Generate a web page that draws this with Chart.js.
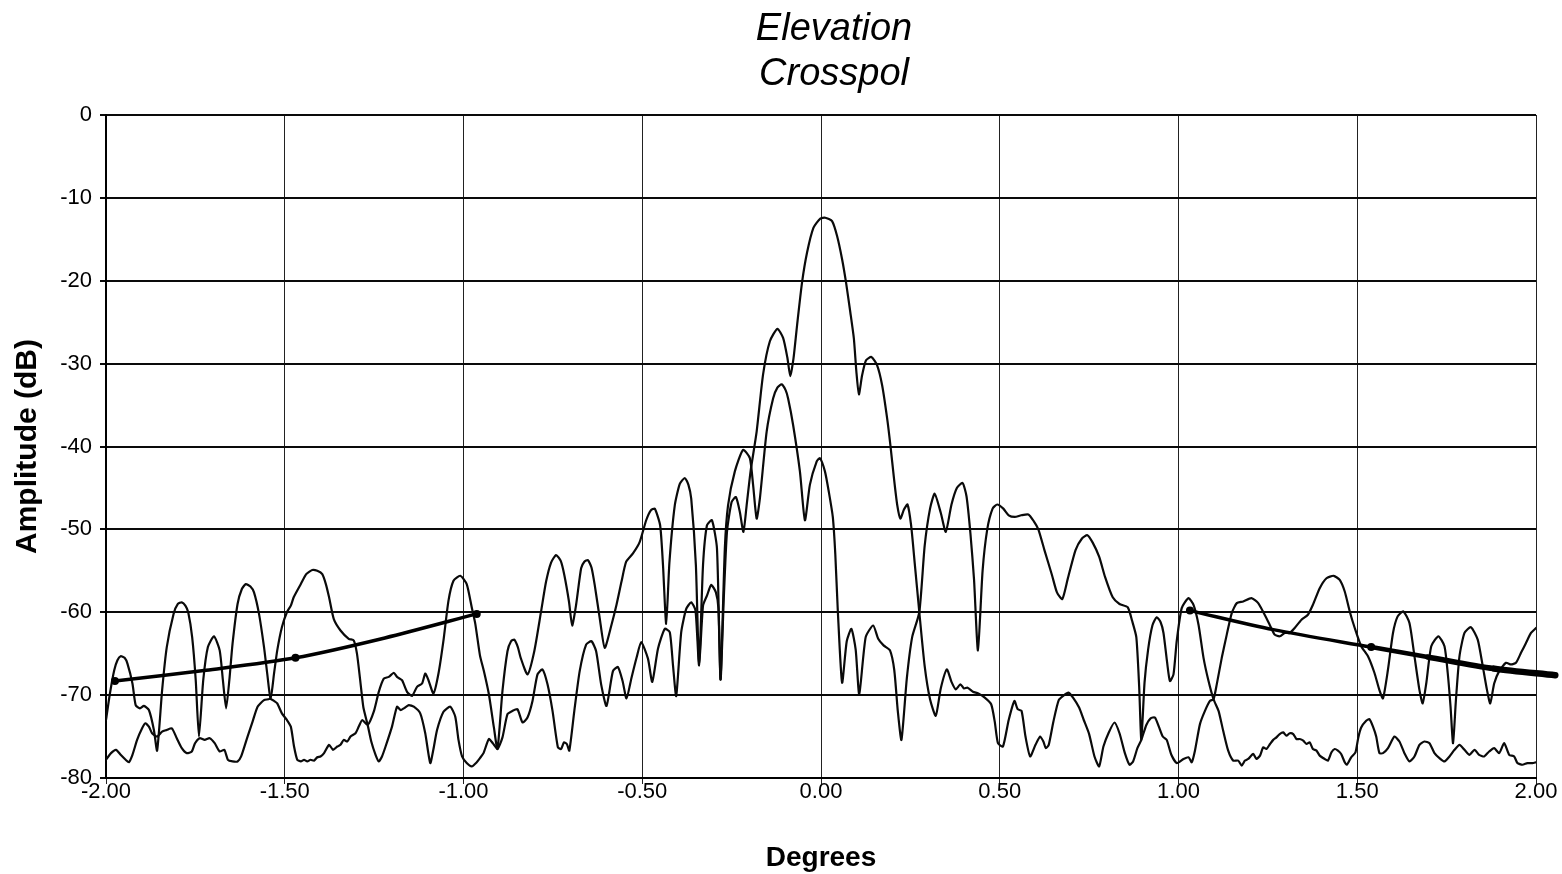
<!DOCTYPE html>
<html>
<head>
<meta charset="utf-8">
<title>Elevation Crosspol</title>
<script src="https://cdn.jsdelivr.net/npm/chart.js@4/dist/chart.umd.min.js"></script>
<style>
  html, body { margin: 0; padding: 0; background: #fff; }
  #wrap { width: 1562px; height: 874px; }
</style>
</head>
<body>
<div id="wrap"><canvas id="pattern" width="1562" height="874"></canvas></div>
<script>
// Axis ticks
const degreeTicks = [-2, -1.5, -1, -0.5, 0, 0.5, 1, 1.5, 2];
const degreeLabels = ['-2.00', '-1.50', '-1.00', '-0.50', '0.00', '0.50', '1.00', '1.50', '2.00'];
const amplitudeTicks = [0, -10, -20, -30, -40, -50, -60, -70, -80];

const titleLines = ['Elevation', 'Crosspol'];

// Measured cuts, [degrees, dB]. The two traces cross each other several times.
const traceA = [
  [-2.000,-73.0],[-1.989,-69.8],[-1.977,-67.0],[-1.968,-65.8],[-1.959,-65.3],[-1.948,-65.5],[-1.940,-66.2],
  [-1.926,-68.6],[-1.917,-71.2],[-1.905,-71.6],[-1.894,-71.3],[-1.880,-71.8],[-1.866,-74.2],[-1.857,-76.7],
  [-1.843,-69.4],[-1.830,-64.2],[-1.811,-60.2],[-1.799,-59.0],[-1.788,-58.8],[-1.778,-59.2],[-1.770,-60.0],
  [-1.759,-63.0],[-1.749,-68.2],[-1.740,-75.0],[-1.728,-68.2],[-1.715,-64.2],[-1.698,-62.9],[-1.682,-64.6],
  [-1.673,-68.2],[-1.664,-71.6],[-1.655,-68.2],[-1.646,-63.8],[-1.632,-59.0],[-1.620,-57.2],[-1.609,-56.6],
  [-1.596,-56.9],[-1.586,-57.6],[-1.572,-60.2],[-1.558,-64.2],[-1.549,-67.4],[-1.540,-70.4],
  [-1.530,-70.7],[-1.521,-71.0],[-1.508,-72.2],[-1.494,-73.0],[-1.483,-73.8],[-1.474,-76.2],[-1.465,-77.8],
  [-1.455,-78.0],[-1.446,-77.8],[-1.437,-78.0],[-1.428,-77.8],[-1.418,-77.9],[-1.409,-77.5],[-1.400,-77.4],
  [-1.390,-77.0],[-1.376,-76.0],[-1.365,-76.6],[-1.353,-76.2],[-1.344,-76.0],[-1.335,-75.4],[-1.325,-75.6],
  [-1.316,-75.0],[-1.302,-74.6],[-1.293,-73.8],[-1.283,-73.0],[-1.268,-73.6],
  [-1.251,-72.0],[-1.237,-69.6],[-1.223,-68.0],[-1.209,-67.8],[-1.195,-67.3],[-1.186,-67.8],[-1.172,-68.2],
  [-1.158,-69.6],[-1.144,-70.1],[-1.130,-69.0],[-1.116,-68.6],[-1.107,-67.4],[-1.098,-68.2],[-1.084,-69.8],
  [-1.070,-67.4],[-1.056,-63.4],[-1.042,-58.6],[-1.028,-56.2],[-1.009,-55.6],[-0.991,-56.6],[-0.977,-59.4],
  [-0.967,-61.4],[-0.954,-65.2],[-0.943,-67.1],[-0.929,-69.9],[-0.915,-73.9],[-0.905,-76.5],
  [-0.891,-69.5],[-0.877,-64.7],[-0.867,-63.5],[-0.858,-63.3],[-0.848,-64.2],[-0.840,-65.5],[-0.821,-67.5],
  [-0.802,-64.7],[-0.783,-59.9],[-0.769,-56.3],[-0.755,-54.0],[-0.741,-53.1],[-0.728,-53.8],[-0.718,-55.5],
  [-0.705,-58.7],[-0.696,-61.6],[-0.685,-59.1],[-0.671,-54.7],[-0.662,-53.9],[-0.652,-53.7],[-0.642,-54.6],
  [-0.633,-56.7],[-0.619,-60.7],[-0.605,-64.3],[-0.586,-61.5],[-0.572,-59.1],[-0.558,-56.3],[-0.545,-53.9],
  [-0.526,-52.9],[-0.507,-51.5],[-0.489,-48.9],[-0.476,-47.7],[-0.465,-47.5],[-0.450,-49.5],[-0.442,-54.3],
  [-0.433,-61.4],[-0.424,-54.0],[-0.409,-47.1],[-0.395,-44.5],[-0.381,-43.8],[-0.371,-44.6],[-0.363,-46.3],
  [-0.350,-54.3],[-0.341,-66.4],[-0.330,-54.3],[-0.319,-49.5],[-0.305,-48.9],[-0.291,-52.3],[-0.281,-68.1],
  [-0.272,-58.4],[-0.263,-50.3],[-0.250,-46.7],[-0.238,-46.1],[-0.227,-47.9],[-0.217,-50.3],[-0.208,-47.1],
  [-0.197,-43.0],[-0.180,-38.2],[-0.162,-31.3],[-0.143,-27.3],[-0.122,-25.8],[-0.106,-26.9],[-0.094,-29.3],
  [-0.086,-31.5],[-0.077,-29.4],[-0.067,-25.4],[-0.053,-20.2],[-0.039,-16.6],[-0.021,-13.6],[-0.002,-12.5],
  [0.012,-12.4],[0.031,-12.8],[0.045,-14.6],[0.059,-17.4],[0.070,-20.2],[0.082,-23.8],[0.092,-27.0],
  [0.099,-31.0],[0.106,-33.7],[0.115,-31.4],[0.126,-29.6],[0.141,-29.2],[0.157,-30.2],[0.171,-32.6],
  [0.185,-36.6],[0.194,-39.8],[0.204,-43.8],[0.213,-47.0],[0.222,-48.7],[0.232,-47.6],[0.242,-47.0],
  [0.252,-49.5],[0.262,-54.0],[0.275,-60.0],
  [0.290,-66.5],[0.305,-70.5],[0.321,-72.5],[0.335,-69.2],[0.352,-66.9],[0.365,-68.4],[0.377,-69.3],
  [0.390,-68.7],[0.400,-69.2],[0.410,-69.1],[0.425,-69.6],[0.440,-69.8],[0.458,-70.3],[0.476,-71.1],
  [0.486,-73.2],[0.495,-75.8],[0.509,-76.2],[0.525,-73.0],[0.541,-70.7],[0.550,-71.7],[0.561,-71.9],
  [0.572,-75.0],[0.585,-77.4],[0.600,-76.0],[0.613,-75.0],[0.622,-75.6],[0.629,-76.4],[0.637,-76.0],
  [0.650,-73.2],[0.665,-70.6],[0.680,-70.0],[0.692,-69.7],[0.705,-70.3],[0.722,-71.5],[0.735,-73.0],
  [0.750,-74.7],[0.765,-77.4],[0.778,-78.6],[0.790,-76.2],[0.805,-74.5],[0.821,-73.3],[0.835,-74.6],
  [0.850,-77.0],[0.863,-78.4],[0.873,-78.0],[0.885,-76.4],[0.896,-75.4],[0.910,-73.6],[0.922,-72.8],
  [0.934,-72.7],[0.945,-73.8],[0.956,-75.0],[0.967,-75.4],[0.980,-77.2],[0.995,-78.2],[1.014,-77.7],
  [1.028,-77.5],[1.037,-78.1],[1.046,-76.7],[1.060,-73.5],[1.074,-71.9],[1.088,-70.7],[1.098,-70.5],
  [1.107,-68.7],[1.121,-65.5],[1.135,-62.7],[1.149,-60.1],[1.163,-58.9],[1.181,-58.7],[1.204,-58.3],
  [1.223,-58.9],[1.241,-60.3],[1.255,-61.5],[1.269,-62.7],[1.283,-62.9],[1.297,-62.5],[1.311,-62.5],
  [1.325,-61.9],[1.344,-60.9],[1.362,-60.3],[1.376,-59.1],[1.395,-57.1],[1.414,-55.9],[1.434,-55.6],
  [1.451,-56.1],[1.465,-57.5],[1.479,-59.9],[1.493,-61.9],[1.511,-64.1],[1.530,-65.3],[1.548,-67.3],
  [1.562,-69.4],[1.572,-70.4],[1.586,-66.9],[1.600,-62.5],[1.613,-60.5],[1.629,-59.9],[1.646,-61.3],
  [1.660,-65.3],[1.674,-69.4],[1.683,-71.0],[1.693,-68.6],[1.707,-64.1],[1.727,-62.9],[1.744,-64.1],
  [1.753,-67.3],[1.761,-71.4],[1.768,-75.8],[1.776,-70.6],[1.786,-65.3],[1.800,-62.5],[1.818,-61.8],
  [1.837,-63.3],[1.851,-66.5],[1.863,-69.4],[1.872,-71.0],[1.883,-68.6],[1.897,-67.1],[1.916,-66.1],
  [1.930,-66.3],[1.944,-66.1],[1.958,-64.9],[1.972,-63.7],[1.986,-62.5],[2.000,-61.9]
];

const traceB = [
  [-2.000,-77.8],[-1.986,-77.0],[-1.972,-76.6],[-1.959,-77.2],[-1.945,-77.8],[-1.936,-78.1],[-1.926,-77.2],
  [-1.913,-75.4],[-1.899,-74.0],[-1.890,-73.4],[-1.880,-73.8],[-1.871,-74.6],[-1.857,-75.0],[-1.843,-74.4],
  [-1.830,-74.2],[-1.816,-74.0],[-1.802,-75.2],[-1.788,-76.4],[-1.774,-77.0],[-1.760,-76.8],[-1.751,-75.8],
  [-1.738,-75.2],[-1.724,-75.4],[-1.710,-75.2],[-1.696,-75.8],[-1.682,-76.8],[-1.669,-76.6],[-1.659,-77.8],
  [-1.646,-78.0],[-1.632,-78.0],[-1.622,-77.4],[-1.604,-75.0],[-1.590,-73.2],[-1.576,-71.4],[-1.558,-70.6],
  [-1.540,-70.4],
  [-1.530,-67.4],[-1.521,-64.6],[-1.508,-61.8],[-1.494,-60.0],[-1.483,-59.2],[-1.475,-58.2],[-1.455,-56.6],
  [-1.440,-55.4],[-1.423,-54.9],[-1.409,-55.0],[-1.395,-55.4],[-1.385,-56.6],[-1.376,-58.2],[-1.363,-60.8],
  [-1.344,-62.2],[-1.321,-63.2],[-1.307,-63.4],[-1.298,-65.0],[-1.289,-68.2],[-1.280,-71.5],[-1.268,-73.6],
  [-1.258,-75.6],[-1.246,-77.2],[-1.237,-78.0],[-1.228,-77.4],[-1.218,-76.2],[-1.200,-73.8],[-1.186,-71.4],
  [-1.176,-71.8],[-1.167,-71.6],[-1.153,-71.2],[-1.139,-71.4],[-1.121,-72.2],[-1.107,-74.6],[-1.093,-78.2],
  [-1.084,-76.5],[-1.074,-74.2],[-1.056,-72.0],[-1.037,-71.4],[-1.023,-72.6],[-1.014,-75.4],[-1.004,-77.4],
  [-0.991,-78.2],[-0.977,-78.6],[-0.963,-78.1],[-0.954,-77.6],[-0.944,-77.0],[-0.929,-75.3],[-0.918,-75.8],
  [-0.905,-76.5],[-0.891,-75.1],[-0.877,-72.3],[-0.863,-71.9],[-0.849,-71.7],[-0.835,-73.3],[-0.821,-72.7],
  [-0.807,-70.7],[-0.793,-67.5],[-0.779,-66.9],[-0.765,-68.7],[-0.751,-71.9],[-0.736,-76.3],[-0.727,-76.5],
  [-0.719,-75.7],[-0.711,-75.9],[-0.704,-76.7],[-0.690,-71.9],[-0.675,-67.1],[-0.657,-63.9],[-0.642,-63.5],
  [-0.629,-64.7],[-0.615,-68.7],[-0.600,-71.3],[-0.582,-67.1],[-0.568,-66.6],[-0.555,-68.3],[-0.544,-70.4],
  [-0.530,-67.9],[-0.516,-65.5],[-0.503,-63.6],[-0.484,-65.6],[-0.472,-68.4],[-0.456,-64.4],[-0.437,-62.0],
  [-0.423,-62.4],[-0.414,-66.4],[-0.405,-70.1],[-0.391,-62.4],[-0.377,-59.6],[-0.363,-58.8],[-0.351,-59.8],
  [-0.341,-66.4],[-0.330,-59.2],[-0.319,-58.0],[-0.307,-56.7],[-0.294,-57.6],[-0.287,-59.5],[-0.281,-68.1],
  [-0.269,-52.3],[-0.260,-47.1],[-0.241,-43.0],[-0.218,-40.4],[-0.199,-41.4],[-0.190,-44.6],[-0.180,-48.7],
  [-0.171,-46.3],[-0.152,-38.2],[-0.134,-34.2],[-0.122,-32.9],[-0.110,-32.5],[-0.099,-33.2],[-0.092,-34.2],
  [-0.078,-37.4],[-0.059,-43.0],[-0.045,-48.9],[-0.031,-44.6],[-0.012,-41.8],[-0.003,-41.4],[0.011,-43.0],
  [0.022,-45.5],[0.033,-48.5],[0.040,-53.0],[0.047,-59.8],[0.059,-68.5],[0.072,-63.5],[0.085,-62.0],
  [0.097,-64.5],[0.107,-69.9],[0.125,-63.0],[0.146,-61.6],[0.160,-63.2],[0.175,-64.0],[0.193,-64.6],
  [0.205,-67.0],[0.215,-72.0],[0.225,-75.4],[0.240,-68.0],[0.255,-63.0],[0.275,-60.0],
  [0.290,-52.0],[0.305,-47.5],[0.318,-45.7],[0.335,-48.0],[0.349,-50.3],[0.365,-47.0],[0.380,-45.0],
  [0.396,-44.4],[0.407,-46.0],[0.418,-50.5],[0.428,-56.0],[0.439,-64.6],[0.452,-55.0],[0.465,-50.0],
  [0.480,-47.5],[0.493,-47.0],[0.510,-47.5],[0.525,-48.3],[0.542,-48.5],[0.560,-48.3],[0.580,-48.2],
  [0.595,-49.0],[0.608,-50.0],[0.625,-52.5],[0.646,-55.5],[0.660,-57.6],[0.675,-58.4],[0.690,-56.0],
  [0.712,-52.5],[0.730,-51.1],[0.745,-50.7],[0.760,-51.6],[0.778,-53.3],[0.795,-55.8],[0.816,-58.2],
  [0.835,-59.0],[0.858,-59.4],[0.870,-61.0],[0.882,-63.0],[0.890,-69.0],[0.896,-75.4],[0.905,-68.5],
  [0.915,-64.5],[0.927,-61.6],[0.939,-60.6],[0.950,-61.2],[0.958,-62.5],[0.968,-66.0],[0.976,-68.3],
  [0.986,-67.5],[0.995,-63.5],[1.009,-59.5],[1.028,-58.3],[1.042,-59.1],[1.056,-61.5],[1.070,-65.5],
  [1.084,-68.3],[1.098,-70.5],
  [1.112,-71.9],[1.125,-74.3],[1.139,-76.7],[1.153,-77.9],[1.167,-77.9],[1.177,-78.5],[1.186,-77.9],
  [1.195,-77.7],[1.209,-77.1],[1.218,-77.7],[1.228,-77.3],[1.237,-76.3],[1.246,-76.5],[1.256,-75.9],
  [1.265,-75.4],[1.274,-75.1],[1.283,-74.7],[1.293,-74.5],[1.302,-74.9],[1.311,-74.6],[1.321,-74.7],
  [1.330,-75.3],[1.339,-75.3],[1.349,-75.5],[1.358,-75.9],[1.367,-75.7],[1.376,-76.5],[1.386,-76.7],
  [1.395,-77.3],[1.409,-77.7],[1.418,-77.9],[1.428,-76.9],[1.437,-76.5],[1.446,-76.7],[1.455,-77.1],
  [1.465,-78.1],[1.471,-78.4],[1.483,-77.5],[1.495,-76.9],[1.503,-75.1],[1.511,-73.9],[1.525,-73.1],
  [1.534,-72.9],[1.544,-73.8],[1.553,-75.0],[1.562,-77.0],[1.572,-77.0],[1.586,-76.4],[1.604,-75.0],
  [1.618,-75.6],[1.632,-77.0],[1.646,-78.0],[1.660,-77.4],[1.674,-76.0],[1.688,-75.6],[1.702,-75.8],
  [1.716,-77.0],[1.730,-77.6],[1.744,-78.0],[1.758,-77.4],[1.772,-76.6],[1.786,-76.0],[1.800,-76.6],
  [1.814,-77.2],[1.828,-76.6],[1.841,-77.2],[1.855,-77.4],[1.869,-76.8],[1.883,-76.4],[1.897,-77.0],
  [1.911,-75.8],[1.925,-77.2],[1.939,-77.4],[1.948,-78.2],[1.962,-78.4],[1.976,-78.2],[1.990,-78.2],
  [2.000,-78.1]
];

// Sidelobe limit lines and which of their points carry a marker
const maskLeft = [[-1.975,-68.3],[-1.72,-67.0],[-1.470,-65.5],[-1.22,-63.1],[-0.963,-60.2]];
const maskLeftDots = [0, 2, 4];
const maskRight = [[1.032,-59.8],[1.265,-62.1],[1.539,-64.2],[1.697,-65.4],[1.883,-66.8],[2.054,-67.6]];
const maskRightDots = [0, 2];

const FONT = "'Liberation Sans', Arial, sans-serif";
const INK = '#0a0a0a';

const toPoints = rows => rows.map(r => ({ x: r[0], y: r[1] }));

// two line italic heading above the plot
const headingPlugin = {
  id: 'heading',
  afterDraw(chart) {
    const ctx = chart.ctx;
    ctx.save();
    ctx.fillStyle = '#000';
    ctx.font = 'italic 38px ' + FONT;
    ctx.textAlign = 'center';
    ctx.textBaseline = 'alphabetic';
    titleLines.forEach((line, i) => ctx.fillText(line, 834, 40 + i * 45));
    ctx.restore();
  }
};

function traceDataset(rows) {
  return {
    data: toPoints(rows),
    borderColor: INK,
    borderWidth: 2.2,
    pointRadius: 0,
    tension: 0.2,
    fill: false
  };
}

function maskDataset(rows, dots, widths) {
  return {
    data: toPoints(rows),
    borderColor: '#000',
    backgroundColor: '#000',
    borderWidth: widths[0],
    pointRadius: ctx => dots.includes(ctx.dataIndex) ? 4 : 0,
    pointBorderWidth: 0,
    tension: 0.3,
    fill: false,
    clip: false,
    segment: {
      borderWidth: ctx => widths[Math.min(ctx.p0DataIndex, widths.length - 1)]
    }
  };
}

new Chart(document.getElementById('pattern'), {
  type: 'line',
  data: {
    datasets: [
      maskDataset(maskLeft, maskLeftDots, [3.5, 3.5, 3.5, 3.5]),
      maskDataset(maskRight, maskRightDots, [3.5, 3.5, 4.5, 5.5, 6.5]),
      traceDataset(traceA),
      traceDataset(traceB)
    ]
  },
  options: {
    responsive: false,
    animation: false,
    events: [],
    layout: { padding: { top: 115, right: 26, bottom: 0, left: 0 } },
    elements: { line: { borderCapStyle: 'round', borderJoinStyle: 'round' } },
    plugins: {
      legend: { display: false },
      tooltip: { enabled: false },
      title: { display: false }
    },
    scales: {
      x: {
        type: 'linear',
        min: -2,
        max: 2,
        afterBuildTicks: axis => { axis.ticks = degreeTicks.map(v => ({ value: v })); },
        afterFit: axis => { axis.height = 96; },
        grid: { color: '#222', lineWidth: 1, tickLength: 6 },
        border: { color: '#000', width: 2 },
        ticks: {
          autoSkip: false,
          maxRotation: 0,
          padding: -5,
          color: '#000',
          font: { family: FONT, size: 22 },
          callback: (value, index) => degreeLabels[index]
        },
        title: {
          display: true,
          text: 'Degrees',
          color: '#000',
          font: { family: FONT, size: 28, weight: 'bold', lineHeight: 1 },
          padding: { top: 0, bottom: 2 }
        }
      },
      y: {
        type: 'linear',
        min: -80,
        max: 0,
        afterBuildTicks: axis => { axis.ticks = amplitudeTicks.map(v => ({ value: v })); },
        afterFit: axis => { axis.width = 106; },
        grid: { color: INK, lineWidth: 2, tickLength: 6 },
        border: { color: '#000', width: 2 },
        ticks: {
          padding: 8,
          color: '#000',
          font: { family: FONT, size: 22 },
          callback: value => String(value)
        },
        title: {
          display: true,
          text: 'Amplitude (dB)',
          color: '#000',
          font: { family: FONT, size: 30, weight: 'bold', lineHeight: 1 },
          padding: { top: 13, bottom: 0 }
        }
      }
    }
  },
  plugins: [headingPlugin]
});
</script>
</body>
</html>
